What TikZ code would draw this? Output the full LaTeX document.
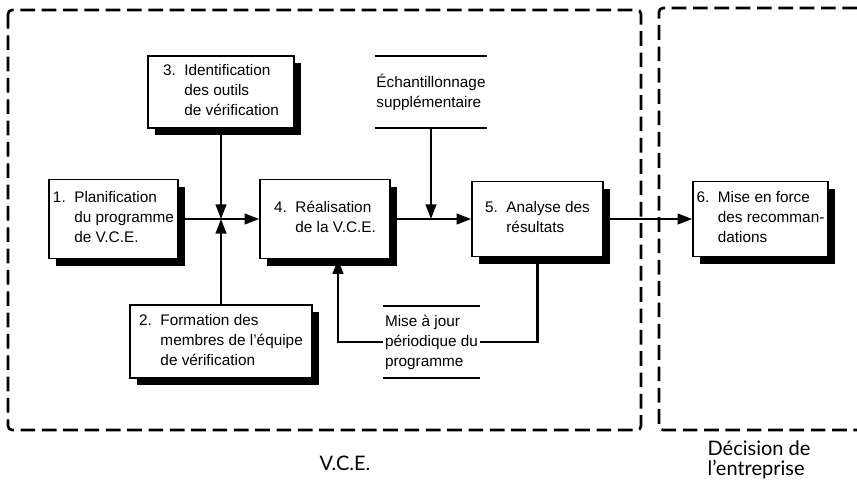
\documentclass[tikz,border=0pt]{standalone}
\usepackage{fontspec}
\setmainfont{Liberation Sans}
\newfontfamily\legendefont{Lato}
\usetikzlibrary{shadows,arrows.meta}
\tikzset{
  etape/.style={draw,line width=1.2pt,fill=white,inner sep=1pt,font=\fontsize{11.5}{15}\selectfont,
    drop shadow={shadow xshift=5.5pt,shadow yshift=-5.5pt,fill=black,opacity=1}},
  note/.style={inner sep=1pt,align=left,font=\fontsize{11.5}{15}\selectfont},
  fleche/.style={line width=1.7pt,-{Triangle[length=11pt,width=8pt]}},
  trait/.style={line width=1.7pt},
  filet/.style={line width=1.2pt},
  cadre/.style={line width=2pt,dash pattern=on 11pt off 5pt,rounded corners=3pt},
  legende/.style={align=left,font=\legendefont\fontsize{15}{15}\selectfont}
}
\begin{document}
\begin{tikzpicture}[x=0.75pt,y=0.75pt]
\useasboundingbox (0,0) rectangle (857,482);
% cadres
\draw [cadre] (8,472) rectangle (641,52);
\draw [cadre] (857,474) -- (659,474) -- (659,52) -- (857,52);
% etapes
\node [etape,minimum width=109.5pt,minimum height=54pt] (b3) at (221,390)
  {\begin{tabular}{@{}l@{\ \ }l@{}}3.&Identification\\&des outils\\&de vérification\end{tabular}};
\node [etape,minimum width=96.75pt,minimum height=59.25pt] (b1) at (113.5,263)
  {\begin{tabular}{@{}l@{\ \ }l@{}}1.&Planification\\&du programme\\&de V.C.E.\end{tabular}};
\node [etape,minimum width=97.5pt,minimum height=59.25pt] (b4) at (325,263)
  {\begin{tabular}{@{}l@{\ \ }l@{}}4.&Réalisation\\&de la V.C.E.\end{tabular}};
\node [etape,minimum width=98.25pt,minimum height=56.25pt] (b5) at (537.5,263)
  {\begin{tabular}{@{}l@{\ \ }l@{}}5.&Analyse des\\&résultats\end{tabular}};
\node [etape,minimum width=101.25pt,minimum height=56.25pt] (b6) at (760.5,263)
  {\begin{tabular}{@{}l@{\ \ }l@{}}6.&Mise en force\\&des recomman-\\&dations\end{tabular}};
\node [etape,minimum width=136.5pt,minimum height=54.75pt] (b2) at (221,140.5)
  {\begin{tabular}{@{}l@{\ \ }l@{}}2.&Formation des\\&membres de l'équipe\\&de vérification\end{tabular}};
% notes
\node [note,minimum width=84pt,minimum height=53.25pt] (ech) at (431,390) {Échantillonnage\\supplémentaire};
\draw [filet] (ech.north west) -- (ech.north east) (ech.south west) -- (ech.south east);
\node [note,minimum width=72.75pt,minimum height=54pt] (mise) at (431.5,140) {Mise à jour\\périodique du\\programme};
\draw [filet] (mise.north west) -- (mise.north east) (mise.south west) -- (mise.south east);
% liaisons
\coordinate (junc) at (221,263);
\coordinate (c45) at (431,263);
\coordinate (ret) at (338,140);
\draw [fleche] (b1) -- (b4);
\draw [fleche] (b3) -- (junc);
\draw [fleche] (b2) -- (junc);
\draw [fleche] (b4) -- (b5);
\draw [fleche] (ech) -- (c45);
\draw [fleche] (b5) -- (b6);
\draw [trait] (b5.south) |- (mise.east);
\draw [fleche] (mise.west) -- (ret) -- (ret |- b4.south);
% legendes
\node [legende] (vce) at (345,19) {V.C.E.};
\node [legende] (dec) at (759,22) {Décision de\\l’entreprise};
\end{tikzpicture}
\end{document}
